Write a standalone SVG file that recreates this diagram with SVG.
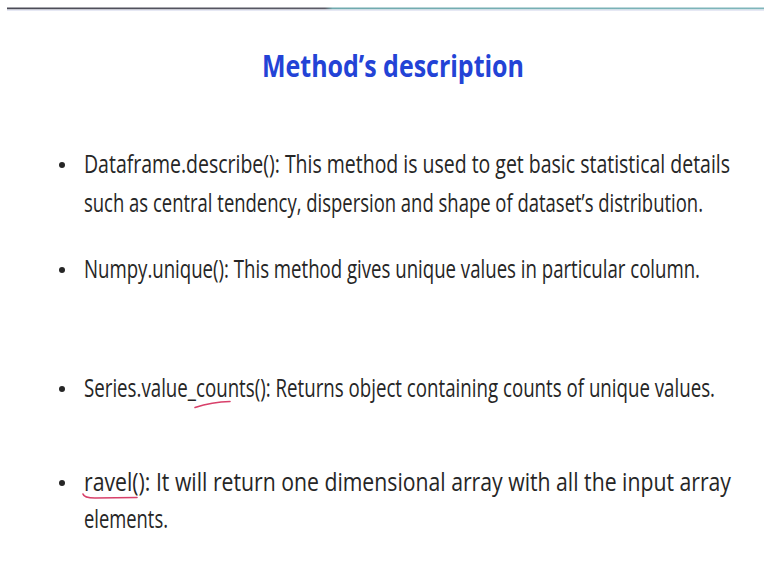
<svg xmlns="http://www.w3.org/2000/svg" width="764" height="575" viewBox="0 0 764 575">
<defs>
<linearGradient id="topline" x1="0" y1="0" x2="1" y2="0">
<stop offset="0" stop-color="#4a4a55"/>
<stop offset="0.42" stop-color="#5a5a66"/>
<stop offset="0.43" stop-color="#6fa9ad"/>
<stop offset="1" stop-color="#7fb6bb"/>
</linearGradient>
<style>
.body{font-family:"Open Sans","Liberation Sans",sans-serif;font-size:22px;fill:#262626}
.title{font-family:"Open Sans","Liberation Sans",sans-serif;font-size:26px;font-weight:bold;fill:#2343d6}
.ul{fill:none;stroke:#d8406a;stroke-width:1.6;stroke-linecap:round}
</style>
</defs>
<rect width="764" height="575" fill="#ffffff"/>
<rect x="7" y="7.5" width="757" height="2" fill="url(#topline)"/>
<rect x="7" y="9.5" width="757" height="1.5" fill="#e6e8f4"/>
<text class="title" transform="translate(262,77) scale(1,1.18)" x="0" y="0" textLength="262" lengthAdjust="spacingAndGlyphs">Method’s description</text>
<g id="bullets" fill="#262626">
<circle cx="62" cy="165" r="3"/>
<circle cx="62" cy="270" r="3"/>
<circle cx="62" cy="389" r="3"/>
<circle cx="62" cy="483" r="3"/>
</g>
<g id="text">
<text class="body" transform="translate(84,173) scale(1,1.15)" textLength="646" lengthAdjust="spacingAndGlyphs">Dataframe.describe(): This method is used to get basic statistical details</text>
<text class="body" transform="translate(84,212) scale(1,1.15)" textLength="619" lengthAdjust="spacingAndGlyphs">such as central tendency, dispersion and shape of dataset’s distribution.</text>
<text class="body" transform="translate(84,278) scale(1,1.15)" textLength="616" lengthAdjust="spacingAndGlyphs">Numpy.unique(): This method gives unique values in particular column.</text>
<text class="body" transform="translate(84,397) scale(1,1.15)" textLength="631" lengthAdjust="spacingAndGlyphs">Series.value_counts(): Returns object containing counts of unique values.</text>
<text class="body" transform="translate(84,491) scale(1,1.15)" textLength="647" lengthAdjust="spacingAndGlyphs">ravel(): It will return one dimensional array with all the input array</text>
<text class="body" transform="translate(84,528) scale(1,1.15)" textLength="84" lengthAdjust="spacingAndGlyphs">elements.</text>
</g>
<path class="ul" d="M195 407.5 Q212 402 230 401.5"/>
<path class="ul" d="M83 494 Q84 498 95 498 L137 497.5"/>
</svg>
